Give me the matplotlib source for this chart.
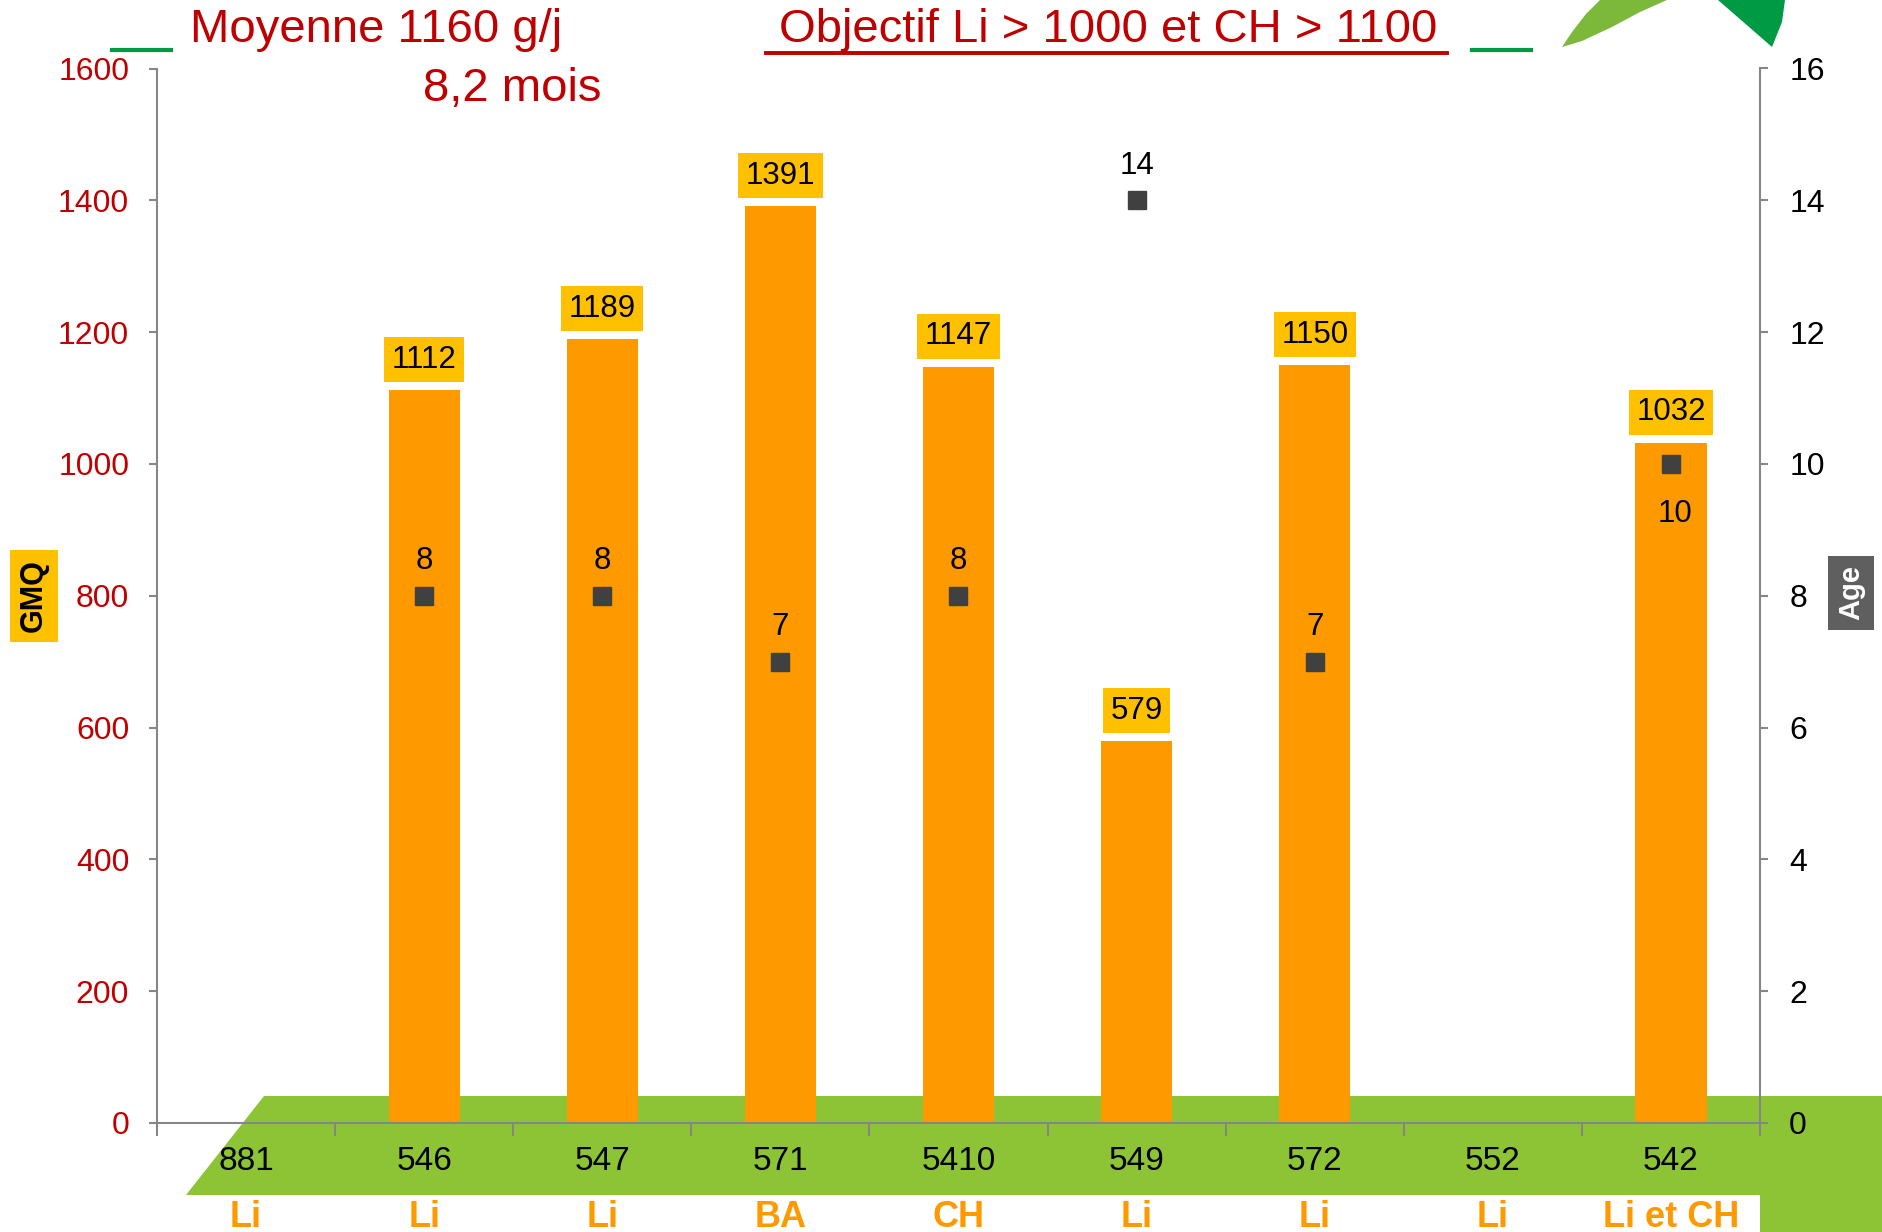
import numpy as np
import matplotlib.pyplot as plt
from matplotlib.patches import Polygon
from matplotlib.lines import Line2D
from matplotlib.transforms import blended_transform_factory

# données
codes = ['881', '546', '547', '571', '5410', '549', '572', '552', '542']
races = ['Li', 'Li', 'Li', 'BA', 'CH', 'Li', 'Li', 'Li', 'Li et CH']
gmq = [np.nan, 1112, 1189, 1391, 1147, 579, 1150, np.nan, 1032]
age = [np.nan, 8, 8, 7, 8, 14, 7, np.nan, 10]

W, H = 1883, 1232
plt.rcParams['font.family'] = ['Liberation Sans', 'DejaVu Sans']

RED = '#C00000'
ORANGE = '#FF9900'
GOLD = '#FFC000'
GREY = '#868686'


def px(x, y):
    """pixels (origine en haut à gauche) -> fraction de figure"""
    return (x / W, 1 - y / H)


fig = plt.figure(figsize=(W / 100, H / 100), dpi=100)
ax = fig.add_axes([157 / W, 1 - 1123 / H, (1760 - 157) / W, (1123 - 68.5) / H])
ax.patch.set_visible(False)

# sol vert
floor = [px(264, 1096), px(1883, 1096), px(1883, 1232), px(1760, 1232),
         px(1760, 1195), px(186, 1195)]
fig.add_artist(Polygon(floor, closed=True, transform=fig.transFigure,
                       fc='#8DC435', ec='none', zorder=-1))

# barres GMQ
x = np.arange(len(codes))
g = np.array(gmq, dtype=float)
ok = ~np.isnan(g)
ax.bar(x[ok], g[ok], width=0.4, color=ORANGE, zorder=2)
for i in x[ok]:
    ax.annotate(f'{int(g[i])}', (i, g[i]), xytext=(0, 22),
                textcoords='offset points', ha='center', va='center',
                fontsize=22.5, zorder=4,
                bbox=dict(boxstyle='square,pad=0.24', fc=GOLD, ec='none'))

ax.set_xlim(-0.5, len(codes) - 0.5)
ax.set_ylim(0, 1600)
ax.set_yticks(range(0, 1601, 200))
ax.set_xticks(np.arange(-0.5, len(codes)))
ax.set_xticklabels([])
ax.tick_params(axis='y', colors=GREY, labelcolor=RED, length=6, width=1.5,
               pad=14, labelsize=23)
ax.tick_params(axis='x', colors=GREY, length=9, width=1.5, direction='out')
for s in ['top', 'right']:
    ax.spines[s].set_visible(False)
for s in ['left', 'bottom']:
    ax.spines[s].set_color(GREY)
    ax.spines[s].set_linewidth(1.5)

# âge (axe de droite)
ax2 = ax.twinx()
ax2.set_ylim(0, 16)
ax2.set_yticks(range(0, 17, 2))
a = np.array(age, dtype=float)
ax2.plot(x, a, ls='none', marker='s', ms=13.5, color='#404040', zorder=5)
for i in x[~np.isnan(a)]:
    below = ok[i] and abs(a[i] * 100 - g[i]) < 100
    ax2.annotate(f'{int(a[i])}', (i, a[i]),
                 xytext=(3 if below else 0, -36 if below else 25),
                 textcoords='offset points', ha='center', va='center',
                 fontsize=22.5)
ax2.tick_params(axis='y', colors=GREY, labelcolor='black', length=6, width=1.5,
                pad=15, labelsize=23)
for s in ['top', 'left', 'bottom']:
    ax2.spines[s].set_visible(False)
ax2.spines['right'].set_color(GREY)
ax2.spines['right'].set_linewidth(1.5)

# étiquettes des catégories
tr = blended_transform_factory(ax.transData, fig.transFigure)
for i in x:
    ax.text(i, 1 - 1162 / H, codes[i], transform=tr, ha='center', va='center',
            fontsize=24)
    ax.text(i, 1 - 1200 / H, races[i], transform=tr, ha='center', va='top',
            fontsize=26, fontweight='bold', color=ORANGE)

# titres
fig.text(*px(190, 30), 'Moyenne 1160 g/j', ha='left', va='center',
         fontsize=34, color=RED)
fig.text(*px(423, 89), '8,2 mois', ha='left', va='center',
         fontsize=34, color=RED)
fig.text(*px(779, 30), 'Objectif Li > 1000 et CH > 1100', ha='left', va='center',
         fontsize=34, color=RED)
fig.add_artist(Line2D([766 / W, 1447 / W], [1 - 53 / H] * 2,
                      transform=fig.transFigure, color=RED, lw=2.8))
for x0, x1 in [(112, 171), (1472, 1531)]:
    fig.add_artist(Line2D([x0 / W, x1 / W], [1 - 50 / H] * 2,
                          transform=fig.transFigure, color='#009944', lw=3))

# feuilles (décor)
leaf1 = [px(1562, 47), px(1572, 32), px(1586, 14), px(1600, 0), px(1667, 0),
         px(1640, 12), px(1612, 27), px(1582, 41)]
leaf2 = [px(1718, 0), px(1785, 0), px(1782, 22), px(1772, 47)]
fig.add_artist(Polygon(leaf1, closed=True, transform=fig.transFigure,
                       fc='#7CB93A', ec='none'))
fig.add_artist(Polygon(leaf2, closed=True, transform=fig.transFigure,
                       fc='#009A44', ec='none'))

# titres d'axes
fig.text(*px(34, 596), 'GMQ', rotation=90, ha='center', va='center',
         fontsize=22, fontweight='bold',
         bbox=dict(boxstyle='square,pad=0.3', fc=GOLD, ec='none'))
fig.text(*px(1851, 593), 'Age', rotation=90, ha='center', va='center',
         fontsize=21, fontweight='bold', color='white',
         bbox=dict(boxstyle='square,pad=0.32', fc='#5F5F5F', ec='none'))

fig.savefig('out.png', dpi=100)
